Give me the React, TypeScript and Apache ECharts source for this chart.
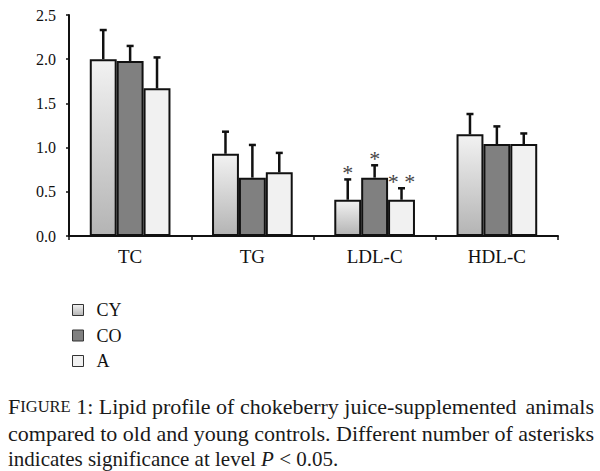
import React, { useEffect, useRef } from "react";
import * as echarts from "echarts";

const categories = ["TC", "TG", "LDL-C", "HDL-C"];
const seriesNames = ["CY", "CO", "A"];
const cyValues = [2.0, 0.93, 0.41, 1.15];
const coValues = [1.98, 0.66, 0.66, 1.04];
const aValues = [1.67, 0.72, 0.41, 1.04];
const cyErrTop = [2.33, 1.18, 0.64, 1.38];
const coErrTop = [2.15, 1.03, 0.8, 1.24];
const aErrTop = [2.02, 0.94, 0.54, 1.16];
const cyStars = ["", "", "*", ""];
const coStars = ["", "", "*", ""];
const aStars = ["", "", "* *", ""];
const yTicks = [0, 0.5, 1.0, 1.5, 2.0, 2.5];

const FONT = "'Liberation Serif', 'Times New Roman', serif";
const BAR_FRAC = 0.22;

export default function App() {
  const ref = useRef<HTMLDivElement>(null);
  useEffect(() => {
    if (!ref.current) return;
    const chart = echarts.init(ref.current, null, { renderer: "svg" });
    const values = [cyValues, coValues, aValues];
    const errs = [cyErrTop, coErrTop, aErrTop];
    const stars = [cyStars, coStars, aStars];
    const colors: any[] = [
      new echarts.graphic.LinearGradient(0, 0, 0, 1, [
        { offset: 0, color: "#f2f2f2" },
        { offset: 1, color: "#b4b4b4" },
      ]),
      "#808080",
      "#f1f1f1",
    ];
    const barSeries = seriesNames.map((name, i) => ({
      name,
      type: "bar",
      data: values[i],
      barWidth: "22%",
      barGap: "0%",
      itemStyle: { color: colors[i], borderColor: "#111", borderWidth: 2 },
      z: 2,
    }));
    const errSeries = seriesNames.map((name, i) => ({
      name: name + "-err",
      type: "custom",
      z: 3,
      data: categories.map((c, k) => [k, values[i][k], errs[i][k]]),
      renderItem: (params: any, api: any) => {
        const k = api.value(0);
        const v = api.value(1);
        const hi = api.value(2);
        const star = stars[i][k];
        const base = api.coord([k, v]);
        const top = api.coord([k, hi]);
        const bw = api.size([1, 0])[0] * BAR_FRAC;
        const x = base[0] + (i - 1) * bw;
        const children: any[] = [
          {
            type: "line",
            shape: { x1: x, y1: base[1], x2: x, y2: top[1] },
            style: { stroke: "#111", lineWidth: 2.5 },
          },
          {
            type: "line",
            shape: { x1: x - 3.5, y1: top[1], x2: x + 3.5, y2: top[1] },
            style: { stroke: "#111", lineWidth: 2.5 },
          },
        ];
        if (star) {
          children.push({
            type: "text",
            style: {
              text: star,
              x: x,
              y: top[1] - 7,
              align: "center",
              verticalAlign: "middle",
              fontSize: 22,
              fontFamily: FONT,
              fill: "#444",
            },
          });
        }
        return { type: "group", children };
      },
    }));

    const capStyle = { fontFamily: FONT, fontSize: 22, fill: "#1a1a1a" };

    chart.setOption({
      animation: false,
      backgroundColor: "#ffffff",
      grid: { left: 69, right: 42, top: 15, bottom: 235, containLabel: false },
      legend: {
        data: seriesNames,
        orient: "vertical",
        left: 67,
        top: 296,
        itemWidth: 11,
        itemHeight: 11,
        itemGap: 7.5,
        icon: "rect",
        itemStyle: { borderColor: "#333", borderWidth: 1 },
        textStyle: { fontFamily: FONT, fontSize: 18, color: "#111", padding: [0, 0, 0, 8] },
      },
      xAxis: {
        type: "category",
        data: categories,
        axisLine: { lineStyle: { color: "#111", width: 2 } },
        axisTick: { show: true, length: 4, lineStyle: { color: "#111", width: 1.5 } },
        axisLabel: { fontFamily: FONT, fontSize: 19, color: "#111", margin: 11 },
      },
      yAxis: {
        type: "value",
        min: 0,
        max: 2.5,
        interval: 0.5,
        splitLine: { show: false },
        axisLine: { show: true, lineStyle: { color: "#111", width: 2 } },
        axisTick: { show: true, length: 3, lineStyle: { color: "#111", width: 1.5 } },
        axisLabel: {
          fontFamily: FONT,
          fontSize: 16,
          color: "#111",
          margin: 13,
          formatter: (v: number) => (yTicks.includes(v) ? v.toFixed(1) : ""),
        },
      },
      series: [...barSeries, ...errSeries],
      graphic: [
        {
          type: "text",
          left: 8,
          top: 395,
          style: {
            text: "{a|F}{b|IGURE} 1: Lipid profile of chokeberry juice-supplemented",
            rich: {
              a: { ...capStyle },
              b: { ...capStyle, fontSize: 16.5 },
            },
            ...capStyle,
          },
        },
        {
          type: "text",
          right: 6,
          top: 395,
          style: { text: "animals", ...capStyle },
        },
        {
          type: "text",
          left: 8,
          top: 422,
          style: {
            text: "compared to old and young controls. Different number of",
            ...capStyle,
          },
        },
        {
          type: "text",
          right: 6,
          top: 422,
          style: { text: "asterisks", ...capStyle },
        },
        {
          type: "text",
          left: 8,
          top: 448,
          style: {
            text: "indicates significance at level {i|P} < 0.05.",
            rich: { i: { ...capStyle, fontSize: 21, fontStyle: "italic" } },
            ...capStyle,
            fontSize: 21,
          },
        },
      ],
    });
    return () => chart.dispose();
  }, []);
  return (
    <div
      ref={ref}
      style={{ position: "fixed", left: 0, top: 0, width: 600, height: 471, background: "#fff" }}
    />
  );
}
